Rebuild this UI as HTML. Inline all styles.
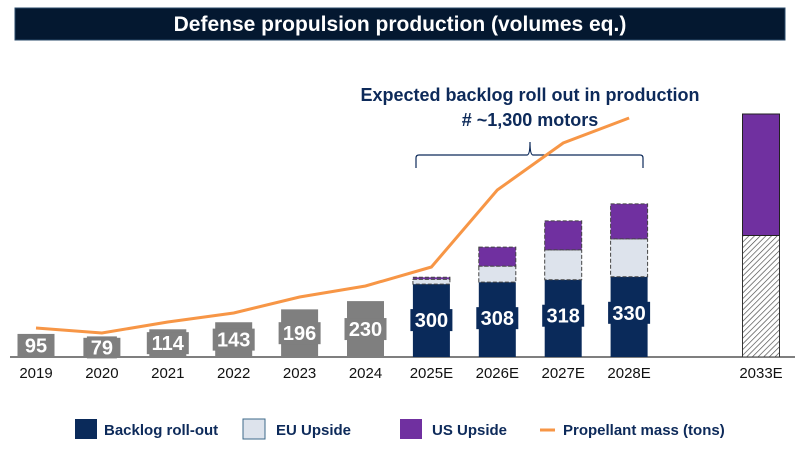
<!DOCTYPE html>
<html><head><meta charset="utf-8"><style>
body{margin:0;background:#fff;width:799px;height:448px;overflow:hidden;font-family:"Liberation Sans",sans-serif}
svg text{font-family:"Liberation Sans",sans-serif}
</style></head><body>
<svg id="c" width="799" height="448" xmlns="http://www.w3.org/2000/svg">
<defs><pattern id="hatch" width="4" height="4" patternUnits="userSpaceOnUse" patternTransform="rotate(45)"><rect width="4" height="4" fill="#fff"/><line x1="0" y1="0" x2="0" y2="4" stroke="#444" stroke-width="1.3"/></pattern></defs>
<rect x="15" y="8" width="770" height="32" fill="#041830" stroke="#2a4a6a"/>
<text x="400" y="31" text-anchor="middle" fill="#fff" font-size="21" font-weight="bold">Defense propulsion production (volumes eq.)</text>
<text x="530" y="101" text-anchor="middle" fill="#0d2a5a" font-size="18" font-weight="bold">Expected backlog roll out in production</text>
<text x="530" y="126" text-anchor="middle" fill="#0d2a5a" font-size="18" font-weight="bold"># ~1,300 motors</text>
<path d="M416 168 V158 Q416 155 419 155 H527 Q530 155 530 142 Q530 155 533 155 H640 Q643 155 643 158 V168" fill="none" stroke="#0d2a5a" stroke-width="1.2"/>
<line x1="10" y1="357" x2="795" y2="357" stroke="#333" stroke-width="1.2"/>
<g id="bars"></g><g id="lbls"></g>
<g>
<rect x="75" y="419" width="22" height="20" fill="#0a2a5a"/>
<text x="104" y="435" fill="#0d2a5a" font-size="15" font-weight="bold">Backlog roll-out</text>
<rect x="243" y="419" width="22" height="20" fill="#dde3ec" stroke="#3d6a8a"/>
<text x="276" y="435" fill="#0d2a5a" font-size="15" font-weight="bold">EU Upside</text>
<rect x="400" y="419" width="22" height="20" fill="#7030a0"/>
<text x="432" y="435" fill="#0d2a5a" font-size="15" font-weight="bold">US Upside</text>
<line x1="540" y1="430" x2="555" y2="430" stroke="#f79646" stroke-width="3"/>
<text x="563" y="435" fill="#0d2a5a" font-size="15" font-weight="bold">Propellant mass (tons)</text>
</g>
</svg>
<script>
const categories=["2019","2020","2021","2022","2023","2024","2025E","2026E","2027E","2028E","2033E"];
const backlog=[95,79,114,143,196,230,300,308,318,330,500];
const euUpside=[0,0,0,0,0,0,20,66,123,156,0];
const usUpside=[0,0,0,0,0,0,8,78,119,144,500];
const propellant=[29,24,35,44,60,71,90,167,214,239];
const NS="http://www.w3.org/2000/svg";
const base=357,k=0.243,bw=37;
const xc=i=>i<10?36+i*65.9:761;
const y=v=>base-v*k;
const yp=v=>base-v;
const bars=document.getElementById('bars'),lbls=document.getElementById('lbls'),svg=document.getElementById('c');
function mk(tag,a,p){const e=document.createElementNS(NS,tag);for(const q in a)e.setAttribute(q,a[q]);p.appendChild(e);return e;}
categories.forEach((c,i)=>{
  const x=xc(i)-bw/2;
  const hist=i<6, b33=i===10;
  const fill=hist?"#7f7f7f":(b33?"url(#hatch)":"#0a2a5a");
  let r=mk('rect',{x:x,y:y(backlog[i]),width:bw,height:backlog[i]*k,fill:fill,stroke:b33?"#333":"none"},bars);
  
  
  let t=backlog[i];
  if(euUpside[i]>0){
    let e=mk('rect',{x:x,y:y(t+euUpside[i]),width:bw,height:euUpside[i]*k,fill:"#dde3ec",stroke:"#444","stroke-dasharray":"4,2"},bars);
    
    
    t+=euUpside[i];
  }
  if(usUpside[i]>0){
    let u=mk('rect',{x:x,y:y(t+usUpside[i]),width:bw,height:usUpside[i]*k,fill:"#7030a0",stroke:b33?"#222":"#444","stroke-dasharray":b33?"none":"4,2"},bars);
    
    
  }
  let xl=mk('text',{x:xc(i),y:378,"text-anchor":"middle","font-size":15,fill:"#111"},lbls);
  xl.textContent=c;
  
  
  if(!b33){
    const ly=hist?y(backlog[i])+(base-y(backlog[i]))/2:y(backlog[i])+36;
    const tw=String(backlog[i]).length*12+6;
    let bg=mk('rect',{x:xc(i)-tw/2,y:ly-11,width:tw,height:22,fill:hist?"#7f7f7f":"#0a2a5a"},lbls);
    
    
    let vl=mk('text',{x:xc(i),y:ly+7,"text-anchor":"middle","font-size":20,"font-weight":"bold",fill:"#fff"},lbls);
    vl.textContent=backlog[i];
    
    
  }
});
let pl=mk('polyline',{points:propellant.map((v,i)=>xc(i)+","+yp(v)).join(" "),fill:"none",stroke:"#f79646","stroke-width":3},svg);


</script>
</body></html>
